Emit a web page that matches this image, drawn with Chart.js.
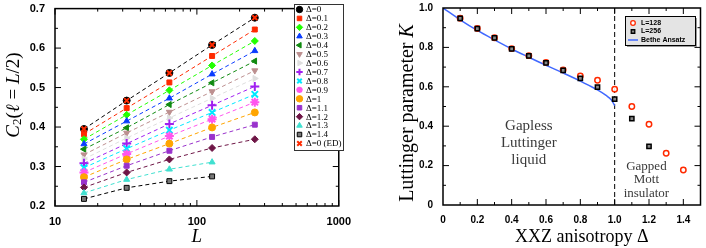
<!DOCTYPE html>
<html>
<head>
<meta charset="utf-8">
<script src="https://cdn.jsdelivr.net/npm/chart.js@4"></script>
<style>
  html, body { margin: 0; padding: 0; background: #fff; }
  #wrap { position: relative; width: 706px; height: 248px; overflow: hidden; }
  canvas { position: absolute; top: 0; }
</style>
</head>
<body>
<div id="wrap">
  <canvas id="left" width="352" height="248" style="left:0;width:352px;height:248px"></canvas>
  <canvas id="right" width="354" height="248" style="left:352px;width:354px;height:248px"></canvas>
</div>
<script>
// ---- left panel data: C2(l = L/2) vs L ----
const sizes = [16, 32, 64, 128, 256];
const deltaLabels = ["Δ=0", "Δ=0.1", "Δ=0.2", "Δ=0.3", "Δ=0.4", "Δ=0.5", "Δ=0.6", "Δ=0.7",
  "Δ=0.8", "Δ=0.9", "Δ=1", "Δ=1.1", "Δ=1.2", "Δ=1.3", "Δ=1.4"];
const c2Values = [
  [0.395, 0.467, 0.537, 0.608, 0.677],
  [0.382, 0.448, 0.513, 0.580, 0.647],
  [0.369, 0.431, 0.493, 0.556, 0.618],
  [0.357, 0.415, 0.473, 0.534, 0.593],
  [0.344, 0.398, 0.457, 0.512, 0.567],
  [0.330, 0.385, 0.438, 0.490, 0.543],
  [0.319, 0.372, 0.423, 0.473, 0.523],
  [0.308, 0.358, 0.408, 0.455, 0.503],
  [0.297, 0.345, 0.392, 0.437, 0.483],
  [0.285, 0.332, 0.377, 0.420, 0.463],
  [0.273, 0.318, 0.358, 0.399, 0.437],
  [0.260, 0.302, 0.340, 0.375, 0.406],
  [0.247, 0.285, 0.318, 0.347, 0.369],
  [0.233, 0.267, 0.293, 0.311],
  [0.218, 0.246, 0.263, 0.275]
];
const edLabel = "Δ=0 (ED)";
const edValues = [0.395, 0.467, 0.537, 0.608, 0.677];

// ---- right panel data: Luttinger parameter K vs anisotropy ----
const deltas128 = [0.1, 0.2, 0.3, 0.4, 0.5, 0.6, 0.7, 0.8, 0.9, 1.0, 1.1, 1.2, 1.3, 1.4];
const k128 = [0.948, 0.896, 0.849, 0.794, 0.758, 0.724, 0.686, 0.655, 0.633, 0.588, 0.500, 0.410, 0.263, 0.178];
const deltas256 = [0.1, 0.2, 0.3, 0.4, 0.5, 0.6, 0.7, 0.8, 0.9, 1.0, 1.1, 1.2];
const k256 = [0.947, 0.895, 0.848, 0.793, 0.757, 0.722, 0.683, 0.643, 0.598, 0.538, 0.438, 0.297];
const betheDelta = [0, 0.1, 0.2, 0.3, 0.4, 0.5, 0.6, 0.7, 0.8, 0.85, 0.9, 0.95, 0.98, 1.0];
const betheK = [1.0, 0.94, 0.886, 0.838, 0.792, 0.75, 0.709, 0.67, 0.629, 0.607, 0.584, 0.556, 0.534, 0.505];

// marker styles for the left panel
const colors = ["#000000", "#ff2a00", "#22ff00", "#0a3cff", "#108a10", "#bc8f8f", "#dedede",
  "#a020f0", "#00e8ff", "#ff55ee", "#ffa500", "#9932cc", "#6e1646", "#40e0d0", "#000000"];
const styles = ["circle", "rect", "rectRot", "triangle", "triangle", "triangle", "triangle",
  "cross", "crossRot", "star", "circle", "rect", "rectRot", "triangle", "rect"];
const rotations = [0, 0, 0, 0, -90, 180, 90, 0, 0, 0, 0, 0, 0, 0, 0];

const SERIF = "'Liberation Serif', 'DejaVu Serif', serif";
const SANS = "'Liberation Sans', Arial, sans-serif";

function xy(xs, ys) {
  return ys.map((y, i) => ({ x: xs[i], y: y }));
}

function drawTicks(ctx, scale, values, len, vertical, area) {
  values.forEach(v => {
    const p = scale.getPixelForValue(v);
    ctx.beginPath();
    if (vertical) {
      ctx.moveTo(area.left, p); ctx.lineTo(area.left + len, p);
      ctx.moveTo(area.right, p); ctx.lineTo(area.right - len, p);
    } else {
      ctx.moveTo(p, area.bottom); ctx.lineTo(p, area.bottom - len);
      ctx.moveTo(p, area.top); ctx.lineTo(p, area.top + len);
    }
    ctx.stroke();
  });
}

// draws text pieces [text, italic, sizeScale, dy] left to right
function drawPieces(ctx, pieces, size, cx, cy) {
  let total = 0;
  pieces.forEach(p => {
    ctx.font = (p[1] ? "italic " : "") + Math.round(size * (p[2] || 1)) + "px " + SERIF;
    total += ctx.measureText(p[0]).width;
  });
  let x = cx - total / 2;
  ctx.textAlign = "left";
  ctx.textBaseline = "middle";
  pieces.forEach(p => {
    ctx.font = (p[1] ? "italic " : "") + Math.round(size * (p[2] || 1)) + "px " + SERIF;
    ctx.fillText(p[0], x, cy + (p[3] || 0));
    x += ctx.measureText(p[0]).width;
  });
}

/**
 * Left panel
 */
const leftSets = c2Values.map((vals, i) => ({
  label: deltaLabels[i],
  data: xy(sizes, vals),
  showLine: true,
  borderColor: colors[i],
  backgroundColor: i == 14 ? "#777777" : colors[i],
  pointBorderColor: i == 14 ? "#000000" : colors[i],
  borderWidth: 1,
  borderDash: [4, 3],
  pointStyle: styles[i],
  pointRotation: rotations[i],
  pointRadius: (styles[i] == "cross" || styles[i] == "crossRot" || styles[i] == "star") ? 4.5 : 3.5,
  pointBorderWidth: (styles[i] == "cross" || styles[i] == "crossRot" || styles[i] == "star") ? 2 : 1,
  order: 20 - i
}));
leftSets.push({
  label: edLabel,
  data: xy(sizes, edValues),
  showLine: false,
  borderColor: "#ff2a00",
  backgroundColor: "#ff2a00",
  pointStyle: "crossRot",
  pointRadius: 3.5,
  pointBorderWidth: 2,
  order: 0
});

const leftFrame = {
  id: "leftFrame",
  afterDraw(chart) {
    const ctx = chart.ctx, a = chart.chartArea;
    const xs = chart.scales.x, ys = chart.scales.y;
    ctx.save();
    ctx.strokeStyle = "#000";
    ctx.lineWidth = 1.5;
    ctx.strokeRect(a.left, a.top, a.right - a.left, a.bottom - a.top);
    ctx.lineWidth = 1;
    drawTicks(ctx, xs, [10, 100, 1000], 6, false, a);
    const minorX = [];
    [10, 100].forEach(d => { for (let k = 2; k <= 9; k++) minorX.push(k * d); });
    drawTicks(ctx, xs, minorX, 3, false, a);
    drawTicks(ctx, ys, [0.3, 0.4, 0.5, 0.6], 6, true, a);
    drawTicks(ctx, ys, [0.25, 0.35, 0.45, 0.55, 0.65], 3, true, a);

    // axis titles
    ctx.fillStyle = "#000";
    drawPieces(ctx, [["L", true]], 19, (a.left + a.right) / 2, 237);
    ctx.save();
    ctx.translate(14, 95);
    ctx.rotate(-Math.PI / 2);
    drawPieces(ctx, [["C", true], ["2", false, 0.7, 4], ["(", false], ["ℓ", true], [" = ", false],
      ["L", true], ["/2)", false]], 19, 0, 0);
    ctx.restore();

    // legend
    const lx = 294, ly = 4, lw = 49, lh = 146;
    ctx.fillStyle = "#fff";
    ctx.fillRect(lx, ly, lw, lh);
    ctx.strokeStyle = "#333";
    ctx.lineWidth = 1;
    ctx.strokeRect(lx + 0.5, ly + 0.5, lw, lh);
    chart.data.datasets.slice().sort((p, q) => (p.label == edLabel) - (q.label == edLabel)).forEach((ds, i) => {
      const y = 9.5 + i * 8.93;
      ctx.fillStyle = ds.backgroundColor;
      ctx.strokeStyle = ds.pointBorderColor || ds.borderColor;
      ctx.lineWidth = ds.pointBorderWidth;
      Chart.helpers.drawPoint(ctx, {
        pointStyle: ds.pointStyle, rotation: ds.pointRotation || 0,
        radius: 3.2, borderWidth: ds.pointBorderWidth
      }, 299.5, y);
      ctx.fillStyle = "#000";
      ctx.font = "9px " + SERIF;
      ctx.textAlign = "left";
      ctx.textBaseline = "middle";
      ctx.fillText(ds.label, 306, y + 0.5);
    });
    ctx.restore();
  }
};

new Chart(document.getElementById("left"), {
  type: "scatter",
  data: { datasets: leftSets },
  options: {
    responsive: false,
    animation: false,
    devicePixelRatio: 1,
    layout: { padding: { left: 0, right: 12, top: 6, bottom: 0 } },
    plugins: { legend: { display: false }, tooltip: { enabled: false } },
    scales: {
      x: {
        type: "logarithmic", min: 10, max: 1000,
        grid: { display: false }, border: { display: false },
        afterBuildTicks: s => { s.ticks = [10, 100, 1000].map(v => ({ value: v })); },
        afterFit: s => { s.height = 42; },
        ticks: {
          callback: v => String(v), autoSkip: false, maxRotation: 0, padding: 1,
          color: "#000", font: { family: SANS, size: 11, weight: "bold" }
        }
      },
      y: {
        min: 0.2, max: 0.7,
        grid: { display: false }, border: { display: false },
        afterFit: s => { s.width = 55; },
        ticks: {
          stepSize: 0.1, padding: 2, color: "#000",
          font: { family: SANS, size: 11, weight: "bold" }
        }
      }
    }
  },
  plugins: [leftFrame]
});

/**
 * Right panel
 */
const rightFrame = {
  id: "rightFrame",
  afterDraw(chart) {
    const ctx = chart.ctx, a = chart.chartArea;
    const xs = chart.scales.x, ys = chart.scales.y;
    ctx.save();
    ctx.strokeStyle = "#000";
    ctx.lineWidth = 1.5;
    ctx.strokeRect(a.left, a.top, a.right - a.left, a.bottom - a.top);
    ctx.lineWidth = 1;
    drawTicks(ctx, xs, [0.2, 0.4, 0.6, 0.8, 1.0, 1.2, 1.4], 6, false, a);
    drawTicks(ctx, xs, [0.1, 0.3, 0.5, 0.7, 0.9, 1.1, 1.3], 3, false, a);
    drawTicks(ctx, ys, [0.2, 0.4, 0.6, 0.8], 6, true, a);
    drawTicks(ctx, ys, [0.1, 0.3, 0.5, 0.7, 0.9], 3, true, a);

    // region annotations
    ctx.fillStyle = "#3a3a3a";
    ctx.font = "15px " + SERIF;
    ctx.textAlign = "center";
    ctx.textBaseline = "middle";
    const gx = xs.getPixelForValue(0.5);
    ["Gapless", "Luttinger", "liquid"].forEach((t, i) => {
      ctx.fillText(t, gx, ys.getPixelForValue(0.4 - i * 0.085));
    });
    ctx.font = "13px " + SERIF;
    const mx = xs.getPixelForValue(1.185);
    ["Gapped", "Mott", "insulator"].forEach((t, i) => {
      ctx.fillText(t, mx, ys.getPixelForValue(0.195 - i * 0.068));
    });

    // axis titles
    ctx.fillStyle = "#000";
    drawPieces(ctx, [["XXZ anisotropy Δ", false]], 18, (a.left + a.right) / 2 + 10, 237);
    ctx.save();
    ctx.translate(56, 113);
    ctx.rotate(-Math.PI / 2);
    drawPieces(ctx, [["Luttinger parameter ", false], ["K", true]], 20, 0, 0);
    ctx.restore();

    // legend
    const lx = 273, ly = 16, lw = 70, lh = 29;
    ctx.fillStyle = "#999";
    ctx.fillRect(lx + 2, ly + 2, lw, lh);
    ctx.fillStyle = "#e4e4e4";
    ctx.fillRect(lx, ly, lw, lh);
    ctx.strokeStyle = "#000";
    ctx.lineWidth = 1;
    ctx.strokeRect(lx + 0.5, ly + 0.5, lw, lh);
    ctx.font = "bold 7px " + SANS;
    ctx.textAlign = "left";
    ctx.textBaseline = "middle";
    ctx.lineWidth = 1.3;
    ctx.strokeStyle = "#ff2a00"; ctx.fillStyle = "#ffffff";
    Chart.helpers.drawPoint(ctx, { pointStyle: "circle", radius: 2.3, borderWidth: 1.3 }, lx + 8, ly + 7);
    ctx.strokeStyle = "#000"; ctx.fillStyle = "#888";
    Chart.helpers.drawPoint(ctx, { pointStyle: "rect", radius: 2.5, borderWidth: 1.3 }, lx + 8, ly + 15.5);
    ctx.strokeStyle = "#4169ff"; ctx.lineWidth = 1.5;
    ctx.beginPath(); ctx.moveTo(lx + 3, ly + 24); ctx.lineTo(lx + 13, ly + 24); ctx.stroke();
    ctx.fillStyle = "#000";
    ctx.fillText("L=128", lx + 16, ly + 7);
    ctx.fillText("L=256", lx + 16, ly + 15.5);
    ctx.fillText("Bethe Ansatz", lx + 16, ly + 24);
    ctx.restore();
  }
};

new Chart(document.getElementById("right"), {
  type: "scatter",
  data: {
    datasets: [
      {
        label: "Bethe Ansatz", data: xy(betheDelta, betheK), showLine: true,
        borderColor: "#4169ff", borderWidth: 1.5, pointRadius: 0,
        cubicInterpolationMode: "monotone", order: 3
      },
      {
        label: "L=128", data: xy(deltas128, k128), showLine: false,
        borderColor: "#ff2a00", backgroundColor: "rgba(255,255,255,0.9)",
        pointStyle: "circle", pointRadius: 2.7, pointBorderWidth: 1.5, order: 2
      },
      {
        label: "L=256", data: xy(deltas256, k256), showLine: false,
        borderColor: "#000", backgroundColor: "#888",
        pointStyle: "rect", pointRadius: 3, pointBorderWidth: 1.5, order: 1
      },
      {
        label: "transition", data: [{ x: 1, y: 0 }, { x: 1, y: 1 }], showLine: true,
        borderColor: "#000", borderWidth: 1, borderDash: [5, 3], pointRadius: 0, order: 4
      }
    ]
  },
  options: {
    responsive: false,
    animation: false,
    devicePixelRatio: 1,
    layout: { padding: { left: 0, right: 2, top: 5, bottom: 0 } },
    plugins: { legend: { display: false }, tooltip: { enabled: false } },
    scales: {
      x: {
        type: "linear", min: 0, max: 1.5,
        grid: { display: false }, border: { display: false },
        afterBuildTicks: s => { s.ticks = [0, 0.2, 0.4, 0.6, 0.8, 1, 1.2, 1.4].map(v => ({ value: v })); },
        afterFit: s => { s.height = 43; },
        ticks: {
          autoSkip: false, maxRotation: 0, padding: 1, color: "#000",
          font: { family: SANS, size: 10, weight: "bold" }
        }
      },
      y: {
        min: 0, max: 1,
        grid: { display: false }, border: { display: false },
        afterFit: s => { s.width = 91; },
        ticks: {
          stepSize: 0.2, padding: 2, color: "#000",
          font: { family: SANS, size: 10, weight: "bold" }
        }
      }
    }
  },
  plugins: [rightFrame]
});
</script>
</body>
</html>
